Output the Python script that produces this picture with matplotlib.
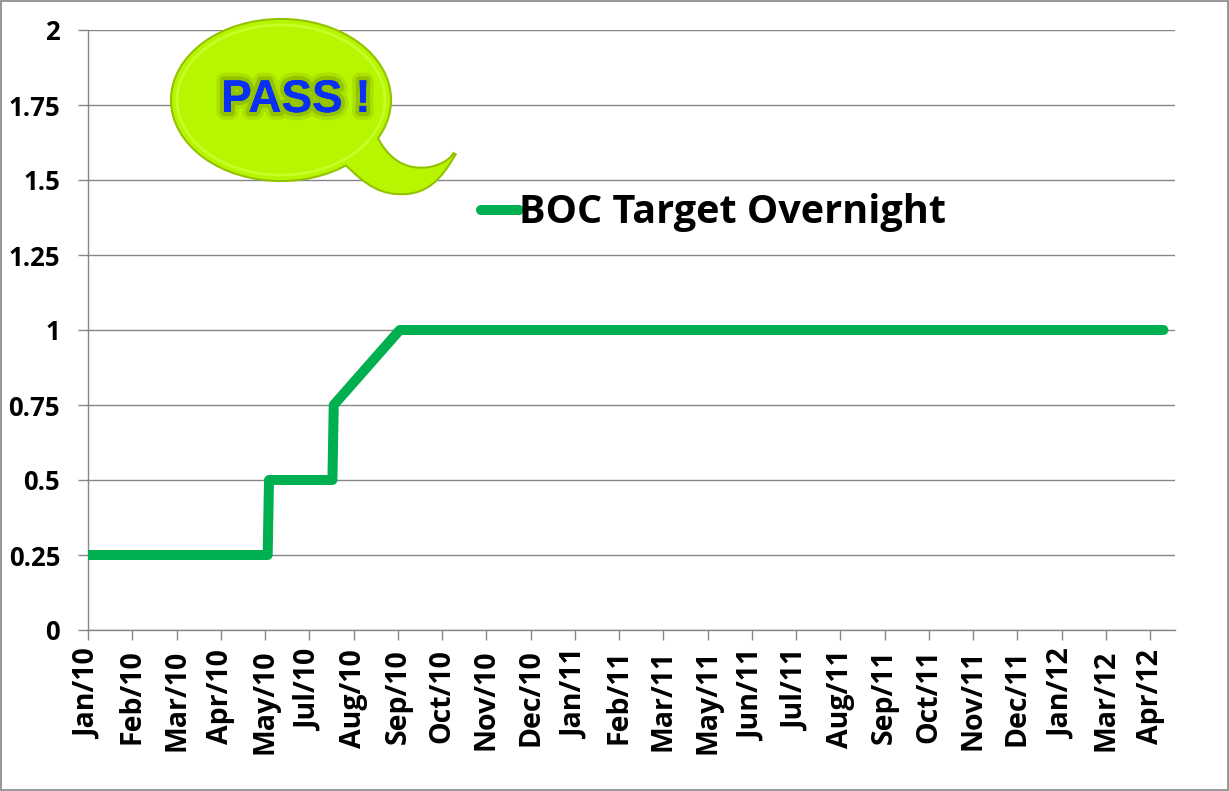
import datetime as dt
import matplotlib
matplotlib.use('Agg')
import matplotlib.pyplot as plt
import matplotlib.dates as mdates
import matplotlib.patheffects as pe
from matplotlib.patches import Ellipse, PathPatch
from matplotlib.path import Path

# Bank of Canada target overnight rate (%)
rate_dates = ['2010-01-15', '2010-05-31', '2010-06-01', '2010-07-19',
              '2010-07-20', '2010-09-08', '2012-04-08']
rate_values = [0.25, 0.25, 0.5, 0.5, 0.75, 1.0, 1.0]
series_name = 'BOC Target Overnight'

# axis labels as printed on the chart (fixed day interval, not months)
tick_labels = ['Jan/10', 'Feb/10', 'Mar/10', 'Apr/10', 'May/10', 'Jul/10',
               'Aug/10', 'Sep/10', 'Oct/10', 'Nov/10', 'Dec/10', 'Jan/11',
               'Feb/11', 'Mar/11', 'May/11', 'Jun/11', 'Jul/11', 'Aug/11',
               'Sep/11', 'Oct/11', 'Nov/11', 'Dec/11', 'Jan/12', 'Mar/12',
               'Apr/12']
tick_start = '2010-01-15'
tick_step_days = 33.5
y_ticks = [0, 0.25, 0.5, 0.75, 1, 1.25, 1.5, 1.75, 2]
y_tick_labels = ['0', '0.25', '0.5', '0.75', '1', '1.25', '1.5', '1.75', '2']

FONT = ['Open Sans', 'DejaVu Sans']
W, H = 1229, 791
fig = plt.figure(figsize=(W / 100, H / 100), dpi=100)
fig.patch.set_facecolor('white')

ax = fig.add_axes([88 / W, 1 - 630 / H, (1175 - 88) / W, 600 / H])

x = [mdates.date2num(dt.datetime.strptime(d, '%Y-%m-%d')) for d in rate_dates]
line, = ax.plot(x, rate_values, color='#00B050', lw=7.2,
                solid_capstyle='round', solid_joinstyle='round',
                label=series_name, zorder=3)

t0 = mdates.date2num(dt.datetime.strptime(tick_start, '%Y-%m-%d'))
xt = [t0 + i * tick_step_days for i in range(len(tick_labels))]
ax.set_xlim(t0, t0 + 24.56 * tick_step_days)
ax.set_ylim(0, 2)

ax.set_xticks(xt)
ax.set_xticklabels(tick_labels, rotation=90, family=FONT, weight='bold', size=20.5)
ax.set_yticks(y_ticks)
ax.set_yticklabels(y_tick_labels, family=FONT, weight='bold', size=18.5)

ax.grid(axis='y', color='#868686', lw=1)
ax.set_axisbelow(True)
for s in ['top', 'right']:
    ax.spines[s].set_visible(False)
for s in ['left', 'bottom']:
    ax.spines[s].set_color('#868686')
    ax.spines[s].set_linewidth(1)
ax.tick_params(axis='both', color='#868686', length=7, width=1)
ax.tick_params(axis='y', pad=13)
ax.tick_params(axis='x', pad=7)

leg = fig.legend(handles=[line], loc='center left',
                 bbox_to_anchor=(481 / W, 1 - 213 / H),
                 frameon=False, handlelength=0.95, handletextpad=0.0,
                 borderpad=0, borderaxespad=0,
                 prop=dict(family=FONT, weight='bold', size=28.5))

# overlay in pixel units for the speech bubble and the border
ov = fig.add_axes([0, 0, 1, 1], facecolor='none')
ov.set_xlim(0, W)
ov.set_ylim(H, 0)
ov.axis('off')

tail = Path([(372, 128), (385, 160), (405, 172), (430, 168),
             (445, 165), (452, 158), (455, 153),
             (440, 180), (425, 195), (397, 193),
             (375, 192), (360, 178), (342, 160),
             (372, 128)],
            [Path.MOVETO] + [Path.CURVE4] * 12 + [Path.CLOSEPOLY])
rim = '#93C200'
fill = '#B7F500'
ov.add_patch(PathPatch(tail, fc=rim, ec=rim, lw=3, zorder=5))
ov.add_patch(Ellipse((281, 100), 218, 160, fc=rim, ec=rim, lw=3, zorder=5))
ov.add_patch(PathPatch(tail, fc=fill, ec='none', zorder=6))
ov.add_patch(Ellipse((281, 100), 218, 160, fc=fill, ec='none', zorder=6))
ov.add_patch(Ellipse((281, 100), 208, 150, fc='none', ec='#C4FF2A', lw=2, zorder=6))

ov.text(296, 100, 'PASS !', color='#0A2FF5', ha='center', va='center',
        family=['Liberation Sans', 'DejaVu Sans'], weight='bold', size=33, zorder=7,
        path_effects=[pe.withStroke(linewidth=11, foreground='#8DB500', alpha=0.3),
                      pe.withStroke(linewidth=6, foreground='#779E00', alpha=0.45),
                      pe.Normal()])

ov.add_patch(plt.Rectangle((0.5, 0.5), W - 2, H - 2, fc='none', ec='#868686', lw=1.2, zorder=8))

fig.savefig('out.png', dpi=100)
